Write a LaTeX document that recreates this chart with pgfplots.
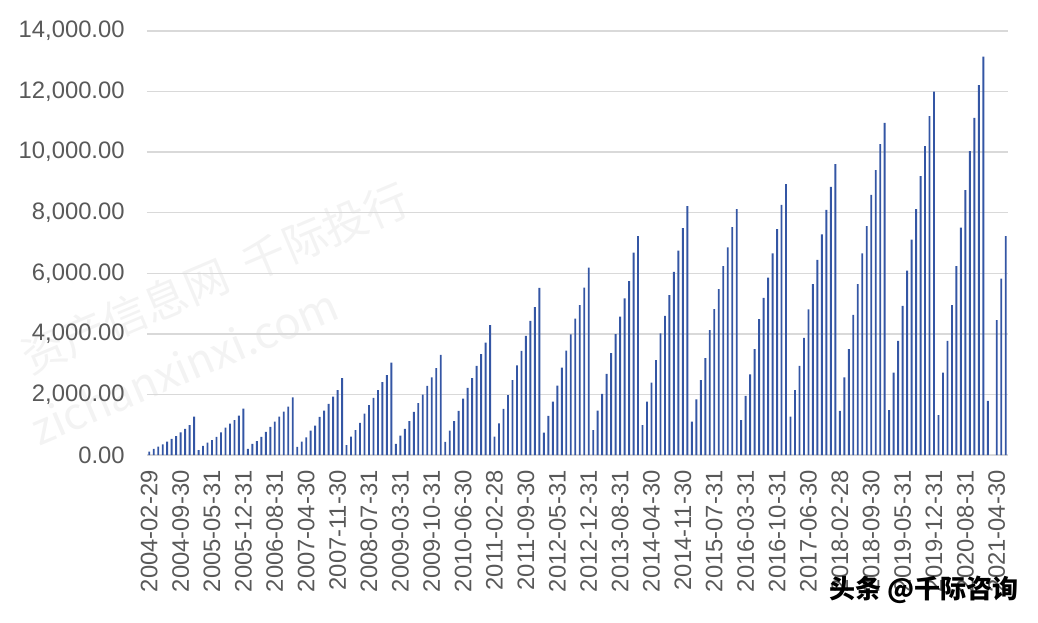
\documentclass[border=0pt]{standalone}
\usepackage{pgfplots}
\pgfplotsset{compat=1.18}
\usepackage{fontspec}
\setmainfont{Liberation Sans}
\newfontfamily\cjk{Noto Sans CJK SC}

\definecolor{barblue}{RGB}{52,86,164}
\definecolor{gridgray}{RGB}{217,217,217}
\definecolor{labelgray}{RGB}{89,89,89}
\definecolor{wmgray}{RGB}{243,243,243}

\begin{document}
\begin{tikzpicture}
\useasboundingbox (0,0) rectangle (519pt,311pt);

% faint watermark behind the chart
\begin{scope}[wmgray, font=\cjk\fontsize{22}{26}\selectfont]
  \node[rotate=23] at (107.5pt,172pt) {资产信息网\ \ 千际投行};
  \node[rotate=23] at (92pt,128pt) {zichanxinxi.com};
\end{scope}

\begin{axis}[
    at={(73.5pt,83.5pt)}, anchor=south west,
    scale only axis,
    width=430.5pt, height=212pt,
    ybar, bar width=0.42,
    xmin=-0.5, xmax=191.5,
    ymin=0, ymax=14000,
    enlargelimits=false,
    axis line style={draw=none},
    major tick length=0pt,
    ymajorgrids,
    grid style={gridgray, line width=0.65pt},
    ytick={0,2000,...,14000},
    scaled y ticks=false,
    xtick={0,7,...,189},
    xticklabels={2004-02-29,2004-09-30,2005-05-31,2005-12-31,2006-08-31,2007-04-30,2007-11-30,
                 2008-07-31,2009-03-31,2009-10-31,2010-06-30,2011-02-28,2011-09-30,2012-05-31,
                 2012-12-31,2013-08-31,2014-04-30,2014-11-30,2015-07-31,2016-03-31,2016-10-31,
                 2017-06-30,2018-02-28,2018-09-30,2019-05-31,2019-12-31,2020-08-31,2021-04-30},
    ticklabel style={font=\fontsize{11.9}{14}\selectfont, text=labelgray, inner sep=0pt},
    xticklabel style={rotate=90, anchor=east},
    yticklabel style={anchor=east},
    xticklabel shift=7.5pt,
    yticklabel shift=11pt,
    /pgf/number format/.cd, fixed, fixed zerofill, precision=2, 1000 sep={,},
    assume math mode=true,
]
\addplot[fill=barblue, draw=none] coordinates {
% 2004
(0,110) (1,200) (2,275) (3,355) (4,440) (5,530) (6,625) (7,750) (8,860) (9,990) (10,1270)
% 2005
(11,165) (12,300) (13,410) (14,495) (15,595) (16,750) (17,900) (18,1035) (19,1155) (20,1300) (21,1530)
% 2006
(22,200) (23,365) (24,460) (25,595) (26,760) (27,925) (28,1100) (29,1265) (30,1430) (31,1595) (32,1905)
% 2007
(33,265) (34,440) (35,585) (36,805) (37,970) (38,1255) (39,1465) (40,1685) (41,1925) (42,2145) (43,2540)
% 2008
(44,330) (45,605) (46,825) (47,1065) (48,1365) (49,1650) (50,1890) (51,2145) (52,2410) (53,2640) (54,3050)
% 2009
(55,365) (56,640) (57,860) (58,1120) (59,1420) (60,1715) (61,1990) (62,2280) (63,2565) (64,2870) (65,3310)
% 2010
(66,430) (67,805) (68,1120) (69,1455) (70,1860) (71,2220) (72,2540) (73,2940) (74,3335) (75,3710) (76,4290)
% 2011
(77,605) (78,1045) (79,1520) (80,1980) (81,2475) (82,2960) (83,3435) (84,3930) (85,4425) (86,4885) (87,5515)
% 2012
(88,735) (89,1290) (90,1760) (91,2290) (92,2885) (93,3445) (94,3985) (95,4500) (96,4950) (97,5525) (98,6185)
% 2013
(99,825) (100,1465) (101,2015) (102,2675) (103,3365) (104,3995) (105,4565) (106,5170) (107,5745) (108,6680) (109,7230)
% 2014
(110,990) (111,1760) (112,2390) (113,3135) (114,4015) (115,4590) (116,5280) (117,6050) (118,6745) (119,7495) (120,8220)
% 2015
(121,1100) (122,1840) (123,2475) (124,3200) (125,4125) (126,4820) (127,5480) (128,6240) (129,6855) (130,7525) (131,8120)
% 2016
(132,1155) (133,1950) (134,2665) (135,3500) (136,4490) (137,5185) (138,5855) (139,6660) (140,7460) (141,8255) (142,8945)
% 2017
(143,1265) (144,2145) (145,2940) (146,3865) (147,4810) (148,5645) (149,6440) (150,7285) (151,8090) (152,8850) (153,9605)
% 2018
(154,1455) (155,2565) (156,3500) (157,4630) (158,5645) (159,6660) (160,7560) (161,8585) (162,9410) (163,10265) (164,10970)
% 2019
(165,1485) (166,2720) (167,3765) (168,4920) (169,6085) (170,7115) (171,8120) (172,9210) (173,10200) (174,11190) (175,11995)
% 2020
(176,1320) (177,2720) (178,3765) (179,4950) (180,6240) (181,7505) (182,8750) (183,10035) (184,11135) (185,12215) (186,13150)
% 2021
(187,1785) (189,4455) (190,5820) (191,7230)
};
\end{axis}

\node[font=\cjk\bfseries\fontsize{13}{15}\selectfont, text=black] at (462pt,16pt) {头条 @千际咨询};
\end{tikzpicture}
\end{document}
